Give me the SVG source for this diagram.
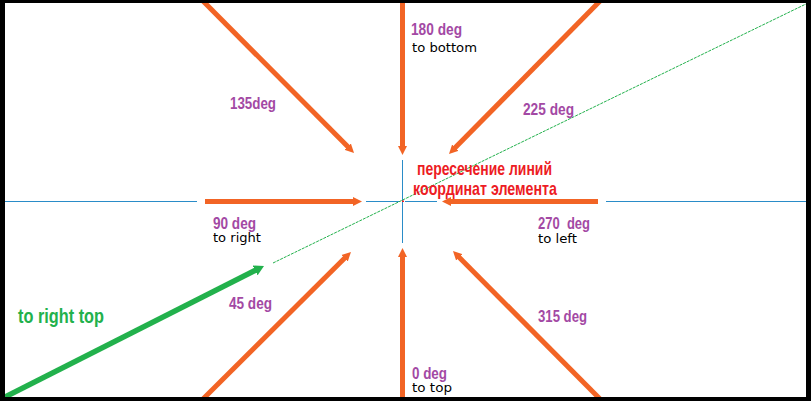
<svg xmlns="http://www.w3.org/2000/svg" width="811" height="401" viewBox="0 0 811 401">
  <style>
    .deg { font-family: "Liberation Sans", Arial, sans-serif; font-weight: bold; font-size: 16px; fill: #A349A4; }
    .dir { font-family: "DejaVu Sans", Verdana, sans-serif; font-size: 11.5px; fill: #000000; }
    .red { font-family: "Liberation Sans", Arial, sans-serif; font-weight: bold; font-size: 19px; fill: #ED1C24; }
    .grn { font-family: "Liberation Sans", Arial, sans-serif; font-weight: bold; font-size: 20px; fill: #22B14C; }
    .arrow { stroke: #F26425; stroke-width: 5; fill: none; marker-end: url(#oh); }
    .axis { stroke: #2A8CC8; stroke-width: 1; fill: none; }
  </style>
  <defs>
    <marker id="oh" markerUnits="userSpaceOnUse" viewBox="0 -5 9 10" refX="1" refY="0" markerWidth="9" markerHeight="10" orient="auto">
      <path d="M0,-4.5 L9,0 L0,4.5 Z" fill="#F26425"/>
    </marker>
    <marker id="gh" markerUnits="userSpaceOnUse" viewBox="0 -6 10 12" refX="1" refY="0" markerWidth="10" markerHeight="12" orient="auto">
      <path d="M0,-5.5 L10,0 L0,5.5 Z" fill="#22B14C"/>
    </marker>
  </defs>
  <rect x="0" y="0" width="811" height="401" fill="#FFFFFF"/>

  <g id="axes">
    <line class="axis" x1="5" y1="201.5" x2="197" y2="201.5"/>
    <line class="axis" x1="366" y1="201.5" x2="399" y2="201.5"/>
    <line class="axis" x1="405" y1="201.5" x2="437" y2="201.5"/>
    <line class="axis" x1="606" y1="201.5" x2="806" y2="201.5"/>
    <line class="axis" x1="402.5" y1="160" x2="402.5" y2="243"/>
    <line x1="273" y1="263" x2="808" y2="3" stroke="#22B14C" stroke-width="1" stroke-dasharray="3 1"/>
    <rect x="402" y="200.5" width="2" height="1.5" fill="#ED1C24"/>
  </g>

  <g id="connectors">
    <line class="arrow" x1="402.5" y1="0" x2="402.5" y2="147"/>
    <line class="arrow" x1="402.5" y1="401" x2="402.5" y2="256"/>
    <line class="arrow" x1="205" y1="201.5" x2="354" y2="201.5"/>
    <line class="arrow" x1="598" y1="201.5" x2="450" y2="201.5"/>
    <line class="arrow" x1="202" y1="0" x2="348.4" y2="147.3"/>
    <line class="arrow" x1="601" y1="0" x2="454.6" y2="148.3"/>
    <line class="arrow" x1="202" y1="400" x2="345.3" y2="257.6"/>
    <line class="arrow" x1="601" y1="400" x2="458.6" y2="256.7"/>
    <line x1="0" y1="399.5" x2="256" y2="270" stroke="#22B14C" stroke-width="5.5" marker-end="url(#gh)"/>
  </g>

  <g id="label-180">
    <text class="deg" x="411" y="34.5" textLength="51" lengthAdjust="spacingAndGlyphs">180 deg</text>
    <text class="dir" x="412" y="52" textLength="65" lengthAdjust="spacingAndGlyphs">to bottom</text>
  </g>
  <g id="label-135">
    <text class="deg" x="230" y="109" textLength="46" lengthAdjust="spacingAndGlyphs">135deg</text>
  </g>
  <g id="label-225">
    <text class="deg" x="523" y="115" textLength="51" lengthAdjust="spacingAndGlyphs">225 deg</text>
  </g>
  <g id="label-center">
    <text class="red" x="417" y="174.5" textLength="135" lengthAdjust="spacingAndGlyphs">пересечение линий</text>
    <text class="red" x="413" y="195" textLength="144" lengthAdjust="spacingAndGlyphs">координат элемента</text>
  </g>
  <g id="label-90">
    <text class="deg" x="213" y="229" textLength="43" lengthAdjust="spacingAndGlyphs">90 deg</text>
    <text class="dir" x="213" y="242" textLength="48" lengthAdjust="spacingAndGlyphs">to right</text>
  </g>
  <g id="label-270">
    <text class="deg" x="538" y="229" textLength="52" lengthAdjust="spacingAndGlyphs" xml:space="preserve">270  deg</text>
    <text class="dir" x="538" y="243" textLength="39" lengthAdjust="spacingAndGlyphs">to left</text>
  </g>
  <g id="label-45">
    <text class="deg" x="229" y="309" textLength="43" lengthAdjust="spacingAndGlyphs">45 deg</text>
  </g>
  <g id="label-315">
    <text class="deg" x="538" y="322" textLength="49" lengthAdjust="spacingAndGlyphs">315 deg</text>
  </g>
  <g id="label-0">
    <text class="deg" x="412" y="379" textLength="35" lengthAdjust="spacingAndGlyphs">0 deg</text>
    <text class="dir" x="412" y="392" textLength="40" lengthAdjust="spacingAndGlyphs">to top</text>
  </g>
  <g id="label-right-top">
    <text class="grn" x="18" y="323" textLength="86" lengthAdjust="spacingAndGlyphs">to right top</text>
  </g>

  <g id="frame" fill="#000000">
    <rect x="0" y="0" width="811" height="3"/>
    <rect x="0" y="0" width="5" height="401"/>
    <rect x="806" y="0" width="5" height="401"/>
    <rect x="0" y="397" width="811" height="4"/>
  </g>
</svg>
